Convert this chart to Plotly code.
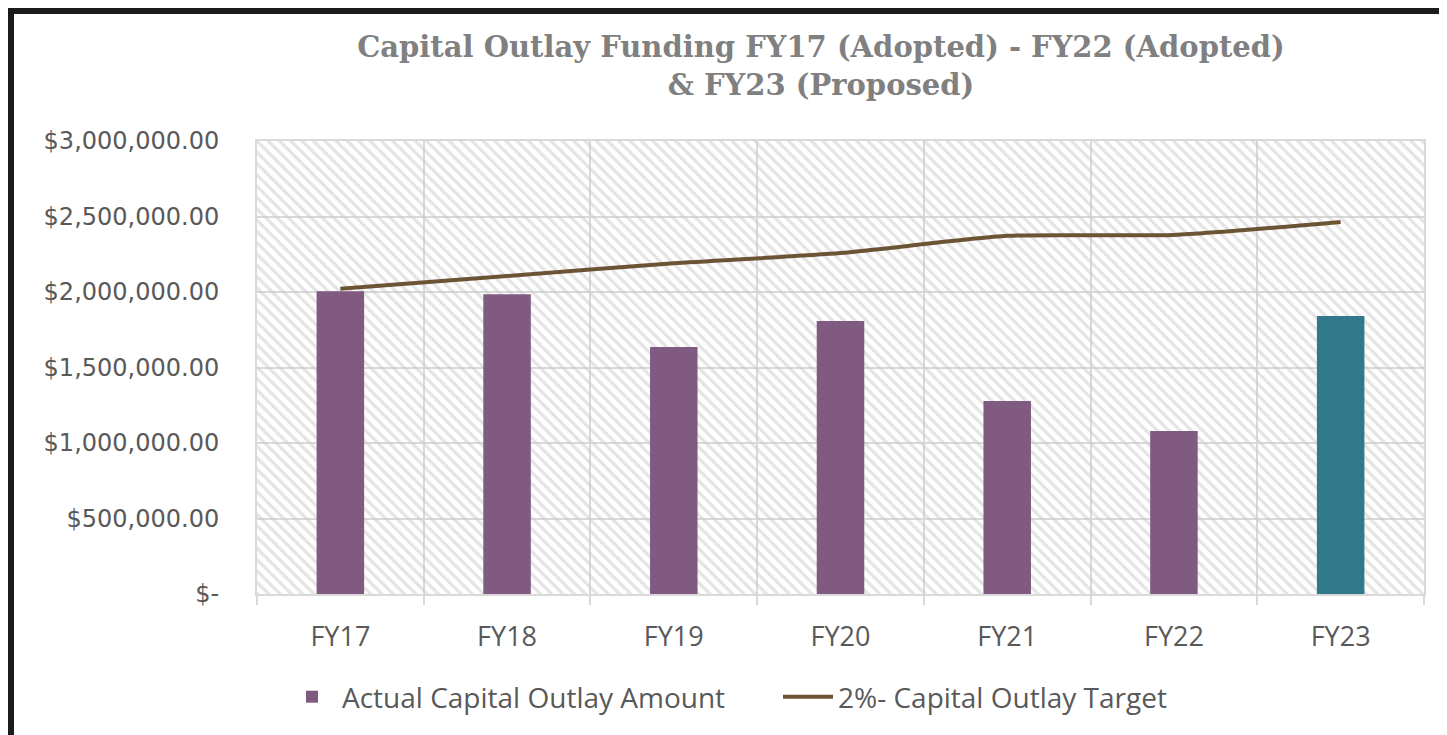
import plotly.graph_objects as go

categories = ["FY17", "FY18", "FY19", "FY20", "FY21", "FY22", "FY23"]
actual_outlay = [2005000, 1985000, 1636000, 1808000, 1278000, 1079000, 1841000]
target_2pct = [2022000, 2106000, 2190000, 2258000, 2372000, 2378000, 2464000]
bar_colors = ["#805A80", "#805A80", "#805A80", "#805A80", "#805A80", "#805A80", "#31788A"]
y_tickvals = [0, 500000, 1000000, 1500000, 2000000, 2500000, 3000000]
y_ticktext = ["$-", "$500,000.00", "$1,000,000.00", "$1,500,000.00",
              "$2,000,000.00", "$2,500,000.00", "$3,000,000.00"]

OFF = 8  # page body margin
W, H = 1447 - OFF, 735 - OFF
L, T = 257 - OFF, 141 - OFF
R = W - (1424 - OFF)
B = H - (594 - OFF)
pw, ph = W - L - R, H - T - B

def px_x(p):  # page pixel -> paper
    return (p - OFF - L) / pw

def px_y(p):
    return (H - B - (p - OFF)) / ph

fig = go.Figure()

# hatched plot-area background (decoration)
fig.add_trace(go.Bar(
    x=[categories[3]], y=[y_tickvals[-1]], width=[len(categories)],
    marker=dict(color="rgba(0,0,0,0)", line=dict(width=0),
                pattern=dict(shape="\\", fgcolor="#C9C9C9", bgcolor="rgba(0,0,0,0)",
                             size=8, solidity=0.4)),
    showlegend=False, hoverinfo="skip"))

fig.add_trace(go.Bar(
    x=categories, y=actual_outlay, width=0.285,
    marker=dict(color=bar_colors, line=dict(width=0)),
    name="Actual Capital Outlay Amount"))

fig.add_trace(go.Scatter(
    x=categories, y=target_2pct, mode="lines",
    line=dict(color="#6B5434", width=4, shape="spline", smoothing=0.6),
    name="2%- Capital Outlay Target"))

fig.update_layout(
    width=W, height=H,
    margin=dict(l=L, r=R, t=T, b=B),
    paper_bgcolor="white", plot_bgcolor="white",
    barmode="overlay",
    title=dict(text="Capital Outlay Funding FY17 (Adopted) - FY22 (Adopted)<br>&amp; FY23 (Proposed)",
               x=(821 - OFF) / W, xanchor="center", y=1 - (57 - OFF) / H, yanchor="middle",
               font=dict(family="DejaVu Serif", size=29, color="#808080", weight="bold")),
    legend=dict(orientation="h", x=px_x(778), xanchor="center", y=px_y(697), yanchor="middle",
                font=dict(family="Open Sans", size=28, color="#595959"),
                itemwidth=50, tracegroupgap=0, entrywidthmode="pixels", entrywidth=431),
    showlegend=True,
)

fig.update_xaxes(
    type="category", categoryorder="array", categoryarray=categories,
    range=[-0.5, len(categories) - 0.5],
    tickson="boundaries", ticks="outside", ticklen=9, tickcolor="#D9D9D9", tickwidth=2,
    showgrid=True, gridcolor="#D9D9D9", gridwidth=2,
    showline=True, linecolor="#D9D9D9", linewidth=2, mirror=True,
    tickfont=dict(family="Open Sans", size=27, color="#595959"),
    ticklabelstandoff=18,
)
fig.update_yaxes(
    range=[0, y_tickvals[-1]], tickvals=y_tickvals, ticktext=y_ticktext,
    showgrid=True, gridcolor="#D9D9D9", gridwidth=2,
    showline=True, linecolor="#D9D9D9", linewidth=2, mirror=True,
    zeroline=False, ticks="",
    tickfont=dict(family="DejaVu Sans", size=24, color="#595959"),
    ticklabelstandoff=31,
)

# dark frame at top and left edges of the image
fig.add_shape(type="rect", xref="paper", yref="paper",
              x0=px_x(OFF), x1=px_x(1447 + OFF), y0=px_y(OFF + 6), y1=px_y(OFF),
              fillcolor="#1C1A1C", line=dict(width=0), layer="above")
fig.add_shape(type="rect", xref="paper", yref="paper",
              x0=px_x(OFF), x1=px_x(OFF + 6), y0=px_y(735 + OFF), y1=px_y(OFF),
              fillcolor="#1C1A1C", line=dict(width=0), layer="above")

fig.write_html("out.html")
